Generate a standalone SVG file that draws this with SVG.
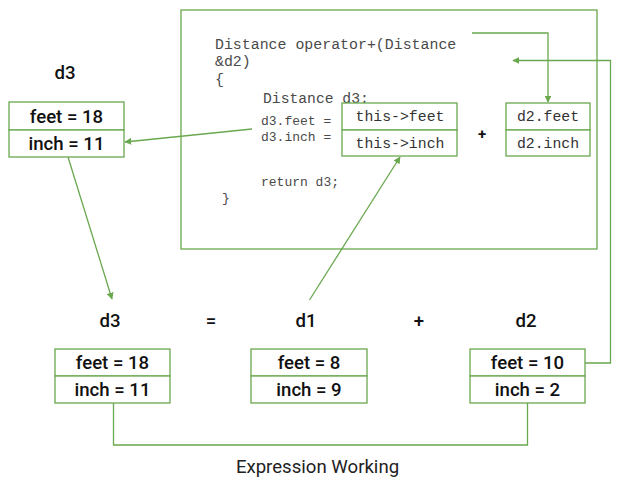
<svg xmlns="http://www.w3.org/2000/svg" width="623" height="481" viewBox="0 0 623 481">
<style>
.box{fill:#fff;stroke:#6aa84f;stroke-width:1.3}
.ln{fill:none;stroke:#6aa84f;stroke-width:1.3}
.lbl{font-family:Roboto,"Liberation Sans",sans-serif;font-weight:500;font-size:18.6px;fill:#111;text-anchor:middle}
.code{font-family:"Liberation Mono","DejaVu Sans Mono",monospace;fill:#4a4a4a}
.cb{font-family:"Liberation Mono","DejaVu Sans Mono",monospace;font-size:14.8px;fill:#333;text-anchor:middle}
.cap{font-family:Roboto,"Liberation Sans",sans-serif;font-size:18.6px;fill:#222;text-anchor:middle}
</style>
<defs>
<marker id="ah" viewBox="0 0 10 10" refX="9" refY="5" markerWidth="7" markerHeight="7" markerUnits="userSpaceOnUse" orient="auto">
<path d="M0,0 L10,5 L0,10 z" fill="#6aa84f"/>
</marker>
</defs>
<rect width="623" height="481" fill="#fff"/>

<g id="code-frame">
<rect x="181" y="10" width="416" height="239" fill="none" stroke="#6aa84f" stroke-width="1.3"/>
<text class="code" font-size="14.9" x="215" y="49">Distance operator+(Distance</text>
<text class="code" font-size="14.9" x="215" y="66">&amp;d2)</text>
<text class="code" font-size="14.9" x="215" y="84">{</text>
<text class="code" font-size="14.7" x="263" y="103">Distance d3;</text>
<text class="code" font-size="13" x="261" y="125">d3.feet =</text>
<text class="code" font-size="13" x="261" y="141">d3.inch =</text>
<text class="code" font-size="13" x="261" y="186">return d3;</text>
<text class="code" font-size="13" x="222" y="202">}</text>
<text x="482" y="139" font-family="Roboto,'Liberation Sans',sans-serif" font-weight="700" font-size="15" fill="#111" text-anchor="middle">+</text>
</g>

<g id="this-box">
<rect class="box" x="342" y="103" width="115" height="27"/>
<rect class="box" x="342" y="130" width="115" height="26"/>
<text class="cb" x="400" y="121">this-&gt;feet</text>
<text class="cb" x="400" y="148">this-&gt;inch</text>
</g>

<g id="d2-box-code">
<rect class="box" x="506" y="103" width="84" height="27"/>
<rect class="box" x="506" y="130" width="84" height="26"/>
<text class="cb" x="548" y="121">d2.feet</text>
<text class="cb" x="548" y="148">d2.inch</text>
</g>

<g id="d3-top">
<text class="lbl" x="65" y="79">d3</text>
<rect class="box" x="9" y="102" width="115" height="28"/>
<rect class="box" x="9" y="130" width="115" height="27"/>
<text class="lbl" x="66.5" y="122.5">feet = 18</text>
<text class="lbl" x="66.5" y="149.5">inch = 11</text>
</g>

<g id="d3-bottom">
<text class="lbl" x="110" y="327">d3</text>
<rect class="box" x="55" y="349" width="115" height="27"/>
<rect class="box" x="55" y="376" width="115" height="27"/>
<text class="lbl" x="112.5" y="369">feet = 18</text>
<text class="lbl" x="112.5" y="396">inch = 11</text>
</g>

<g id="op-eq">
<text class="lbl" x="211" y="327">=</text>
</g>

<g id="d1">
<text class="lbl" x="306" y="327">d1</text>
<rect class="box" x="251" y="349" width="116" height="27"/>
<rect class="box" x="251" y="376" width="116" height="27"/>
<text class="lbl" x="309" y="369">feet = 8</text>
<text class="lbl" x="309" y="396">inch = 9</text>
</g>

<g id="op-plus">
<text class="lbl" x="419" y="327">+</text>
</g>

<g id="d2">
<text class="lbl" x="526" y="327">d2</text>
<rect class="box" x="470" y="349" width="115" height="27"/>
<rect class="box" x="470" y="376" width="115" height="27"/>
<text class="lbl" x="527.5" y="369">feet = 10</text>
<text class="lbl" x="527.5" y="396">inch = 2</text>
</g>

<g id="caption">
<text class="cap" x="317.5" y="473">Expression Working</text>
</g>

<g id="connectors">
<polyline class="ln" points="472,33 548,33 548,102" marker-end="url(#ah)"/>
<polyline class="ln" points="585,363 610.5,363 610.5,60.5 513,60.5" marker-end="url(#ah)"/>
<line class="ln" x1="252" y1="129" x2="125" y2="142" marker-end="url(#ah)"/>
<line class="ln" x1="68" y1="157" x2="112" y2="299" marker-end="url(#ah)"/>
<line class="ln" x1="309.5" y1="300" x2="400" y2="157" marker-end="url(#ah)"/>
<polyline class="ln" points="113.5,403 113.5,445 527.5,445 527.5,403"/>
</g>
</svg>
